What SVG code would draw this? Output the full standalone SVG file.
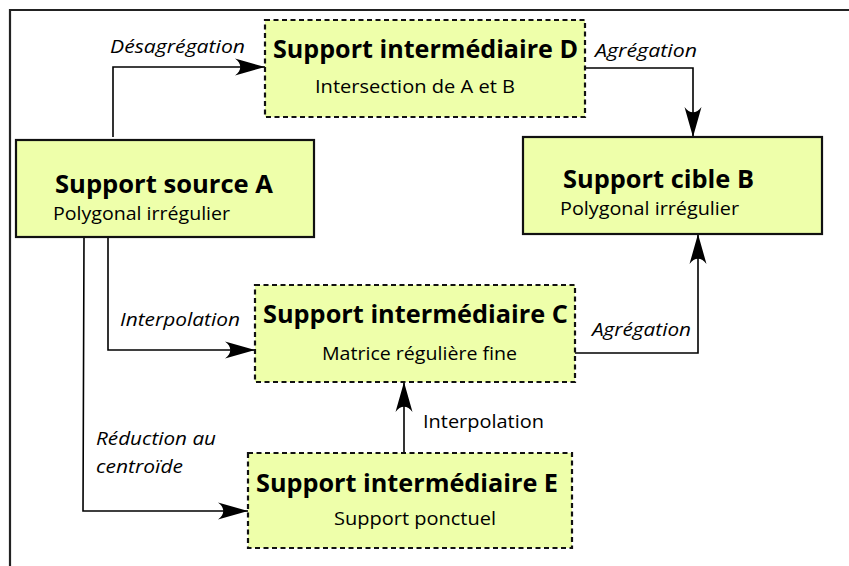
<svg xmlns="http://www.w3.org/2000/svg" width="849" height="566" viewBox="0 0 849 566">
<style>
.box{fill:#eeffaa;stroke:#111;stroke-width:2.2}
.dash{stroke-dasharray:5,3.5}
.t{font-family:"Open Sans","Noto Sans",sans-serif;font-weight:bold;font-size:24.5px;fill:#000}
.s{font-family:"Open Sans","Noto Sans",sans-serif;font-size:19px;fill:#000}
.l{font-family:"Open Sans","Noto Sans",sans-serif;font-size:19px;font-style:italic;fill:#000}
.c{fill:none;stroke:#000;stroke-width:1.6}
</style>
<defs>
<marker id="ar" markerUnits="userSpaceOnUse" markerWidth="32" markerHeight="19" refX="30" refY="8.5" orient="auto" overflow="visible">
<path d="M30,8.5 L0,0 C7,5 7,12 0,17 Z" fill="#000"/>
</marker>
</defs>
<g id="frame">
<path d="M10,566 L10,10 L849,10" fill="none" stroke="#222" stroke-width="2.2"/>
</g>
<g id="connectors">
<path class="c" d="M113,137 L113,67 L265,67" marker-end="url(#ar)"/>
<path class="c" d="M585,68 L693,68 L693,137" marker-end="url(#ar)"/>
<path class="c" d="M108,238 L108,350 L255,350" marker-end="url(#ar)"/>
<path class="c" d="M84,238 L83,511 L248,511" marker-end="url(#ar)"/>
<path class="c" d="M575,353 L698,353 L698,234" marker-end="url(#ar)"/>
<path class="c" d="M404,453 L404,382" marker-end="url(#ar)"/>
<text class="l" x="110" y="53" textLength="135" lengthAdjust="spacingAndGlyphs">Désagrégation</text>
<text class="l" x="595" y="57" textLength="102" lengthAdjust="spacingAndGlyphs">Agrégation</text>
<text class="l" x="120" y="326" textLength="120" lengthAdjust="spacingAndGlyphs">Interpolation</text>
<text class="l" x="96" y="445" textLength="120" lengthAdjust="spacingAndGlyphs">Réduction au</text>
<text class="l" x="96" y="473" textLength="87" lengthAdjust="spacingAndGlyphs">centroïde</text>
<text class="l" x="592" y="336" textLength="99" lengthAdjust="spacingAndGlyphs">Agrégation</text>
<text class="s" x="423" y="428" textLength="121" lengthAdjust="spacingAndGlyphs">Interpolation</text>
</g>
<g id="nodeA">
<rect class="box" x="16" y="140" width="298" height="97"/>
<text class="t" x="55" y="193" textLength="218" lengthAdjust="spacingAndGlyphs">Support source A</text>
<text class="s" x="53" y="220" textLength="177" lengthAdjust="spacingAndGlyphs">Polygonal irrégulier</text>
</g>
<g id="nodeB">
<rect class="box" x="523" y="137" width="299" height="97"/>
<text class="t" x="563" y="188" textLength="191" lengthAdjust="spacingAndGlyphs">Support cible B</text>
<text class="s" x="560" y="215" textLength="179" lengthAdjust="spacingAndGlyphs">Polygonal irrégulier</text>
</g>
<g id="nodeD">
<rect class="box dash" x="265" y="20" width="320" height="97"/>
<text class="t" x="273" y="58" textLength="305" lengthAdjust="spacingAndGlyphs">Support intermédiaire D</text>
<text class="s" x="315" y="93" textLength="200" lengthAdjust="spacingAndGlyphs">Intersection de A et B</text>
</g>
<g id="nodeC">
<rect class="box dash" x="255" y="285" width="320" height="97"/>
<text class="t" x="263" y="323" textLength="305" lengthAdjust="spacingAndGlyphs">Support intermédiaire C</text>
<text class="s" x="322" y="360" textLength="195" lengthAdjust="spacingAndGlyphs">Matrice régulière fine</text>
</g>
<g id="nodeE">
<rect class="box dash" x="248" y="453" width="324" height="95"/>
<text class="t" x="256" y="492" textLength="302" lengthAdjust="spacingAndGlyphs">Support intermédiaire E</text>
<text class="s" x="334" y="525" textLength="162" lengthAdjust="spacingAndGlyphs">Support ponctuel</text>
</g>
</svg>
